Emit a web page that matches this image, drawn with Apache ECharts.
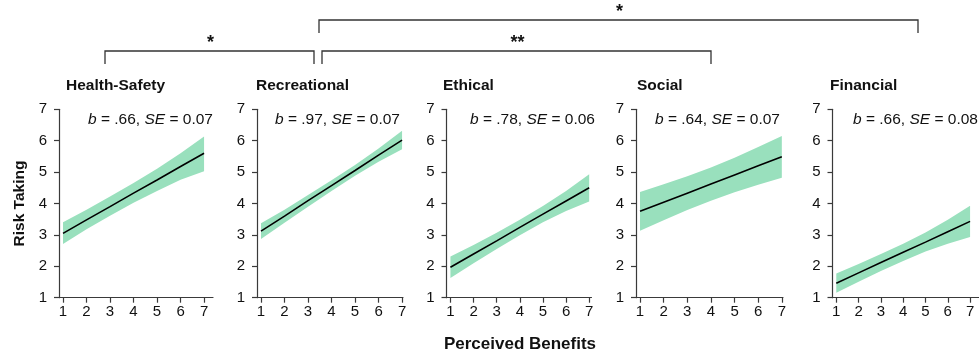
<!DOCTYPE html>
<html><head><meta charset="utf-8">
<script src="https://cdn.jsdelivr.net/npm/echarts@6/dist/echarts.min.js"></script>
<style>html,body{margin:0;padding:0;background:#fff}#c{width:979px;height:356px}</style>
</head><body><div id="c"></div>
<script>
// ---- data ----
const perceivedBenefits = [1, 2, 3, 4, 5, 6, 7];
const riskTicks = [1, 2, 3, 4, 5, 6, 7];
const domains = ['Health-Safety', 'Recreational', 'Ethical', 'Social', 'Financial'];
const slopeB = ['.66', '.97', '.78', '.64', '.66'];
const slopeSE = ['0.07', '0.07', '0.06', '0.07', '0.08'];

const healthFit   = [3.05, 3.48, 3.90, 4.33, 4.75, 5.18, 5.60];
const healthLower = [2.71, 3.18, 3.61, 4.02, 4.40, 4.76, 5.03];
const healthUpper = [3.40, 3.80, 4.22, 4.65, 5.11, 5.60, 6.13];

const recreationalFit   = [3.12, 3.60, 4.09, 4.57, 5.05, 5.54, 6.02];
const recreationalLower = [2.87, 3.39, 3.90, 4.40, 4.88, 5.33, 5.73];
const recreationalUpper = [3.37, 3.80, 4.27, 4.74, 5.23, 5.75, 6.32];

const ethicalFit   = [1.97, 2.39, 2.81, 3.24, 3.66, 4.08, 4.50];
const ethicalLower = [1.63, 2.10, 2.55, 2.99, 3.40, 3.76, 4.06];
const ethicalUpper = [2.31, 2.68, 3.07, 3.48, 3.92, 4.40, 4.93];

const socialFit   = [3.75, 4.04, 4.33, 4.62, 4.91, 5.20, 5.49];
const socialLower = [3.13, 3.47, 3.79, 4.09, 4.36, 4.60, 4.82];
const socialUpper = [4.37, 4.61, 4.87, 5.15, 5.46, 5.80, 6.15];

const financialFit   = [1.46, 1.79, 2.12, 2.45, 2.77, 3.10, 3.43];
const financialLower = [1.16, 1.51, 1.85, 2.17, 2.47, 2.72, 2.93];
const financialUpper = [1.77, 2.07, 2.39, 2.72, 3.08, 3.48, 3.93];

const sigMarks = ['*', '**', '*'];

// ---- layout / style ----
const fits = [healthFit, recreationalFit, ethicalFit, socialFit, financialFit];
const lows = [healthLower, recreationalLower, ethicalLower, socialLower, financialLower];
const highs = [healthUpper, recreationalUpper, ethicalUpper, socialUpper, financialUpper];

const FONT = '"Liberation Sans", Arial, Helvetica, sans-serif';
const AXIS = '#3a3a3a';
const TXT = '#111';
const BAND = '#99e0bd';
const panels = [
  {left: 59, width: 154, xMax: 7.38, title: 66, note: 88},
  {left: 257, width: 146, xMax: 7.04, title: 256, note: 275},
  {left: 446.5, width: 145, xMax: 7.1, title: 443, note: 470},
  {left: 636, width: 147, xMax: 7.05, title: 637, note: 655},
  {left: 832.5, width: 155, xMax: 7.4, title: 830, note: 853}
];
const GTOP = 109.3, GH = 188.4;

function bandRender(params, api) {
  if (params.dataIndex !== 0) return null;
  const n = params.dataInsideLength;
  const top = [], bottom = [];
  for (let j = 0; j < n; j++) {
    const x = api.value(0, j);
    bottom.push(api.coord([x, api.value(1, j)]));
    top.push(api.coord([x, api.value(2, j)]));
  }
  const pts = bottom.concat(top.reverse());
  return {type: 'polygon', shape: {points: pts, smooth: 0}, style: {fill: BAND, stroke: null}};
}

const grid = [], xAxis = [], yAxis = [], series = [], graphic = [];
panels.forEach((p, i) => {
  grid.push({left: p.left, top: GTOP, width: p.width, height: GH, containLabel: false});
  xAxis.push({
    type: 'value', gridIndex: i, min: 0.83, max: p.xMax,
    axisLine: {show: true, onZero: false, lineStyle: {color: AXIS, width: 1.2}},
    axisTick: {show: true, length: 5, lineStyle: {color: AXIS, width: 1.2}, customValues: perceivedBenefits},
    axisLabel: {show: true, margin: 7, fontSize: 15, fontFamily: FONT, color: TXT, customValues: perceivedBenefits},
    splitLine: {show: false}
  });
  yAxis.push({
    type: 'value', gridIndex: i, min: riskTicks[0], max: riskTicks[riskTicks.length - 1], interval: 1,
    axisLine: {show: true, onZero: false, lineStyle: {color: AXIS, width: 1.2}},
    axisTick: {show: true, length: 5, lineStyle: {color: AXIS, width: 1.2}},
    axisLabel: {show: true, margin: 12, fontSize: 15, fontFamily: FONT, color: TXT},
    splitLine: {show: false},
    name: i === 0 ? 'Risk Taking' : '',
    nameLocation: 'middle', nameRotate: 90, nameGap: 31,
    nameTextStyle: {fontSize: 15.5, fontWeight: 'bold', fontFamily: FONT, color: TXT}
  });
  series.push({
    type: 'custom', xAxisIndex: i, yAxisIndex: i, silent: true, z: 2,
    renderItem: bandRender,
    encode: {x: 0, y: [1, 2]},
    data: perceivedBenefits.map((x, k) => [x, lows[i][k], highs[i][k]])
  });
  series.push({
    type: 'line', xAxisIndex: i, yAxisIndex: i, symbol: 'none', silent: true, z: 5,
    lineStyle: {color: '#000', width: 1.6}, data: perceivedBenefits.map((x, k) => [x, fits[i][k]])
  });
  graphic.push({
    type: 'text', x: p.title, y: 86,
    style: {text: domains[i], font: 'bold 15.5px ' + FONT, fill: TXT, verticalAlign: 'middle', align: 'left'}
  });
  graphic.push({
    type: 'text', x: p.note, y: 120,
    style: {
      text: '{i|b}{n| = ' + slopeB[i] + ', }{i|SE}{n| = ' + slopeSE[i] + '}',
      verticalAlign: 'middle', align: 'left', fill: TXT, font: '15.5px ' + FONT,
      rich: {
        i: {fontStyle: 'italic', fontSize: 15.5, fontFamily: FONT, fill: TXT},
        n: {fontSize: 15.5, fontFamily: FONT, fill: TXT}
      }
    }
  });
});

// significance brackets
const brackets = [
  {x1: 105, x2: 314, y: 51, drop: 13, mark: sigMarks[0]},
  {x1: 322, x2: 711, y: 51, drop: 13, mark: sigMarks[1]},
  {x1: 319, x2: 918, y: 20, drop: 13, mark: sigMarks[2]}
];
brackets.forEach(b => {
  graphic.push({
    type: 'polyline',
    shape: {points: [[b.x1, b.y + b.drop], [b.x1, b.y], [b.x2, b.y], [b.x2, b.y + b.drop]]},
    style: {stroke: '#333', lineWidth: 1.3, fill: null}
  });
  graphic.push({
    type: 'text', x: (b.x1 + b.x2) / 2 + 1, y: b.y - 8,
    style: {text: b.mark, font: 'bold 18px ' + FONT, fill: TXT, align: 'center', verticalAlign: 'middle'}
  });
});

graphic.push({
  type: 'text', x: 520, y: 344,
  style: {text: 'Perceived Benefits', font: 'bold 17px ' + FONT, fill: TXT, align: 'center', verticalAlign: 'middle'}
});

const chart = echarts.init(document.getElementById('c'), null, {renderer: 'canvas'});
chart.setOption({
  animation: false,
  backgroundColor: '#fff',
  grid, xAxis, yAxis, series, graphic
});
</script>
</body></html>
